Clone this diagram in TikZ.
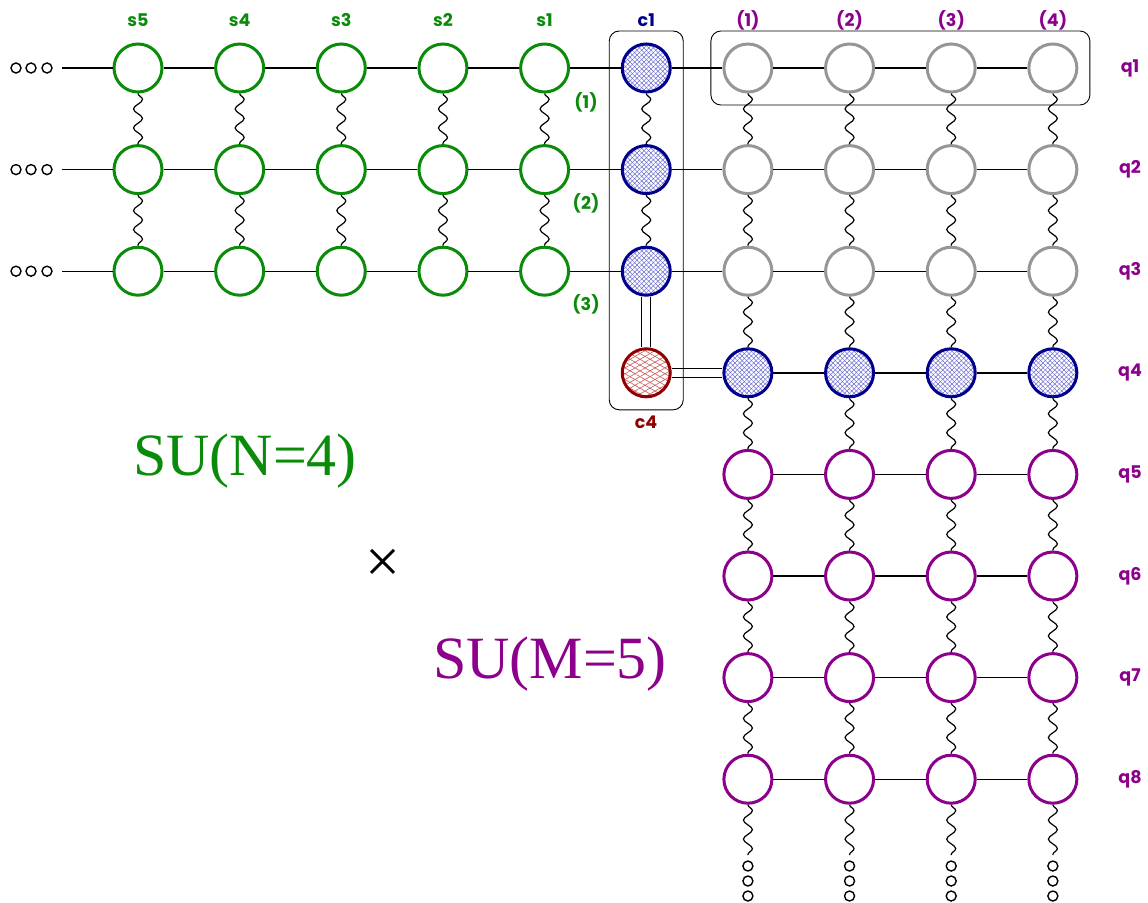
\documentclass[tikz,border=0pt]{standalone}
\usepackage{fontspec}
\usepackage{graphicx}
\setmainfont{Liberation Serif}
\newfontfamily\labfont{Poppins}
\usetikzlibrary{decorations.pathmorphing,patterns.meta,fit}
\definecolor{sgreen}{RGB}{10,140,10}
\definecolor{spurple}{RGB}{140,0,140}
\definecolor{sblue}{RGB}{0,0,140}
\definecolor{sred}{RGB}{145,0,0}
\definecolor{sgray}{RGB}{150,150,150}
\definecolor{hblue}{RGB}{110,110,210}
\definecolor{hred}{RGB}{200,90,90}
\tikzset{
  site/.style={circle, minimum size=48pt, inner sep=0pt, line width=3pt, fill=white},
  gsite/.style={site, draw=sgreen},
  psite/.style={site, draw=spurple},
  ysite/.style={site, draw=sgray},
  bsite/.style={site, draw=sblue, path picture={
    \fill[pattern={Lines[angle=45,distance=3.3pt,line width=0.5pt]}, pattern color=hblue]
      (path picture bounding box.south west) rectangle (path picture bounding box.north east);
    \fill[pattern={Lines[angle=-45,distance=3.3pt,line width=0.5pt]}, pattern color=hblue]
      (path picture bounding box.south west) rectangle (path picture bounding box.north east);}},
  rsite/.style={site, draw=sred, path picture={
    \fill[pattern={Lines[angle=30,distance=5pt,line width=0.6pt]}, pattern color=hred]
      (path picture bounding box.south west) rectangle (path picture bounding box.north east);
    \fill[pattern={Lines[angle=-30,distance=5pt,line width=0.6pt]}, pattern color=hred]
      (path picture bounding box.south west) rectangle (path picture bounding box.north east);}},
  bond/.style={line width=1.4pt},
  wave/.style={line width=1.2pt, decorate, decoration={snake, amplitude=4.5pt, segment length=19pt}},
  dbond/.style={line width=1.2pt, double, double distance=8pt},
  dotc/.style={circle, draw, line width=1.4pt, minimum size=10pt, inner sep=0pt},
  lbl/.style={font=\labfont\bfseries\fontsize{17.5}{20}\selectfont, inner sep=0pt},
  groupbox/.style={draw, rounded corners=10pt, line width=0.9pt, inner sep=11.5pt},
}
\begin{document}
\begin{tikzpicture}[x=1pt,y=-1pt]
\useasboundingbox (0,0) rectangle (1148,902);
% nodes
\foreach \r in {1,2,3}{
  \foreach \c in {0,...,4}{
    \node[gsite] (n-\c-\r) at ({138+101.65*\c},{68+101.6*(\r-1)}) {};
  }
  \node[bsite] (n-5-\r) at ({138+101.65*5},{68+101.6*(\r-1)}) {};
  \foreach \c in {6,...,9}{
    \node[ysite] (n-\c-\r) at ({138+101.65*\c},{68+101.6*(\r-1)}) {};
  }
}
\node[rsite] (n-5-4) at ({138+101.65*5},{68+101.6*3}) {};
\foreach \c in {6,...,9}{
  \node[bsite] (n-\c-4) at ({138+101.65*\c},{68+101.6*3}) {};
  \foreach \r in {5,...,8}{
    \node[psite] (n-\c-\r) at ({138+101.65*\c},{68+101.6*(\r-1)}) {};
  }
}
% left dots and horizontal bonds rows 1-3
\foreach \r in {1,2,3}{
  \node[dotc] (la-\r) at (16,{68+101.6*(\r-1)}) {};
  \node[dotc] (lb-\r) at (31,{68+101.6*(\r-1)}) {};
  \node[dotc] (lc-\r) at (47,{68+101.6*(\r-1)}) {};
  \coordinate (l-\r) at (62,{68+101.6*(\r-1)});
  \draw[bond] (l-\r) -- (n-0-\r);
  \foreach \c [evaluate=\c as \d using int(\c+1)] in {0,...,8}{
    \draw[bond] (n-\c-\r) -- (n-\d-\r);
  }
}
% row 4
\draw[dbond] (n-5-4) -- (n-6-4);
\draw[bond] (n-6-4) -- (n-7-4);
\draw[bond] (n-7-4) -- (n-8-4);
\draw[bond] (n-8-4) -- (n-9-4);
% rows 5-8
\foreach \r in {5,...,8}{
  \draw[bond] (n-6-\r) -- (n-7-\r);
  \draw[bond] (n-7-\r) -- (n-8-\r);
  \draw[bond] (n-8-\r) -- (n-9-\r);
}
% vertical waves left part
\foreach \c in {0,...,5}{
  \draw[wave] (n-\c-1) -- (n-\c-2);
  \draw[wave] (n-\c-2) -- (n-\c-3);
}
\draw[dbond] (n-5-3) -- (n-5-4);
% vertical waves right part
\foreach \c in {6,...,9}{
  \foreach \r [evaluate=\r as \s using int(\r+1)] in {1,...,7}{
    \draw[wave] (n-\c-\r) -- (n-\c-\s);
  }
  \coordinate (b-\c) at ({138+101.65*\c},855);
  \draw[wave] (n-\c-8) -- (b-\c);
  \node[dotc] (ba-\c) at ({138+101.65*\c},866) {};
  \node[dotc] (bb-\c) at ({138+101.65*\c},881) {};
  \node[dotc] (bc-\c) at ({138+101.65*\c},896) {};
}
% group boxes
\node[groupbox, fit=(n-5-1)(n-5-4)] (gc) {};
\node[groupbox, fit=(n-6-1)(n-9-1)] (gq) {};
% labels
\node[lbl, text=sgreen] (t-s5) at ({138+101.65*0},20) {s5};
\node[lbl, text=sgreen] (t-s4) at ({138+101.65*1},20) {s4};
\node[lbl, text=sgreen] (t-s3) at ({138+101.65*2},20) {s3};
\node[lbl, text=sgreen] (t-s2) at ({138+101.65*3},20) {s2};
\node[lbl, text=sgreen] (t-s1) at ({138+101.65*4},20) {s1};
\node[lbl, text=sblue] (t-c1) at ({138+101.65*5},20) {c1};
\node[lbl, text=spurple] (t-d1) at ({138+101.65*6},20) {(1)};
\node[lbl, text=spurple] (t-d2) at ({138+101.65*7},20) {(2)};
\node[lbl, text=spurple] (t-d3) at ({138+101.65*8},20) {(3)};
\node[lbl, text=spurple] (t-d4) at ({138+101.65*9},20) {(4)};
\node[lbl, text=sred] (t-c4) at (646,422) {c4};
\node[lbl, text=sgreen] (t-g1) at (586,102) {(1)};
\node[lbl, text=sgreen] (t-g2) at (586,203) {(2)};
\node[lbl, text=sgreen] (t-g3) at (586,304) {(3)};
\foreach \r in {1,...,8}{
  \node[lbl, text=spurple] (t-q\r) at (1130,{68+101.6*(\r-1)}) {q\r};
}
\node[text=sgreen, font=\fontsize{60}{60}\selectfont, anchor=base, inner sep=0pt] (sun) at (245,475) {SU(N=4)};
\node[font=\fontsize{62}{62}\selectfont, inner sep=0pt] (times) at (383,566) {×};
\node[text=spurple, font=\fontsize{60}{60}\selectfont, anchor=base, inner sep=0pt] (sum) at (550,678) {SU(M=5)};
\end{tikzpicture}
\end{document}
